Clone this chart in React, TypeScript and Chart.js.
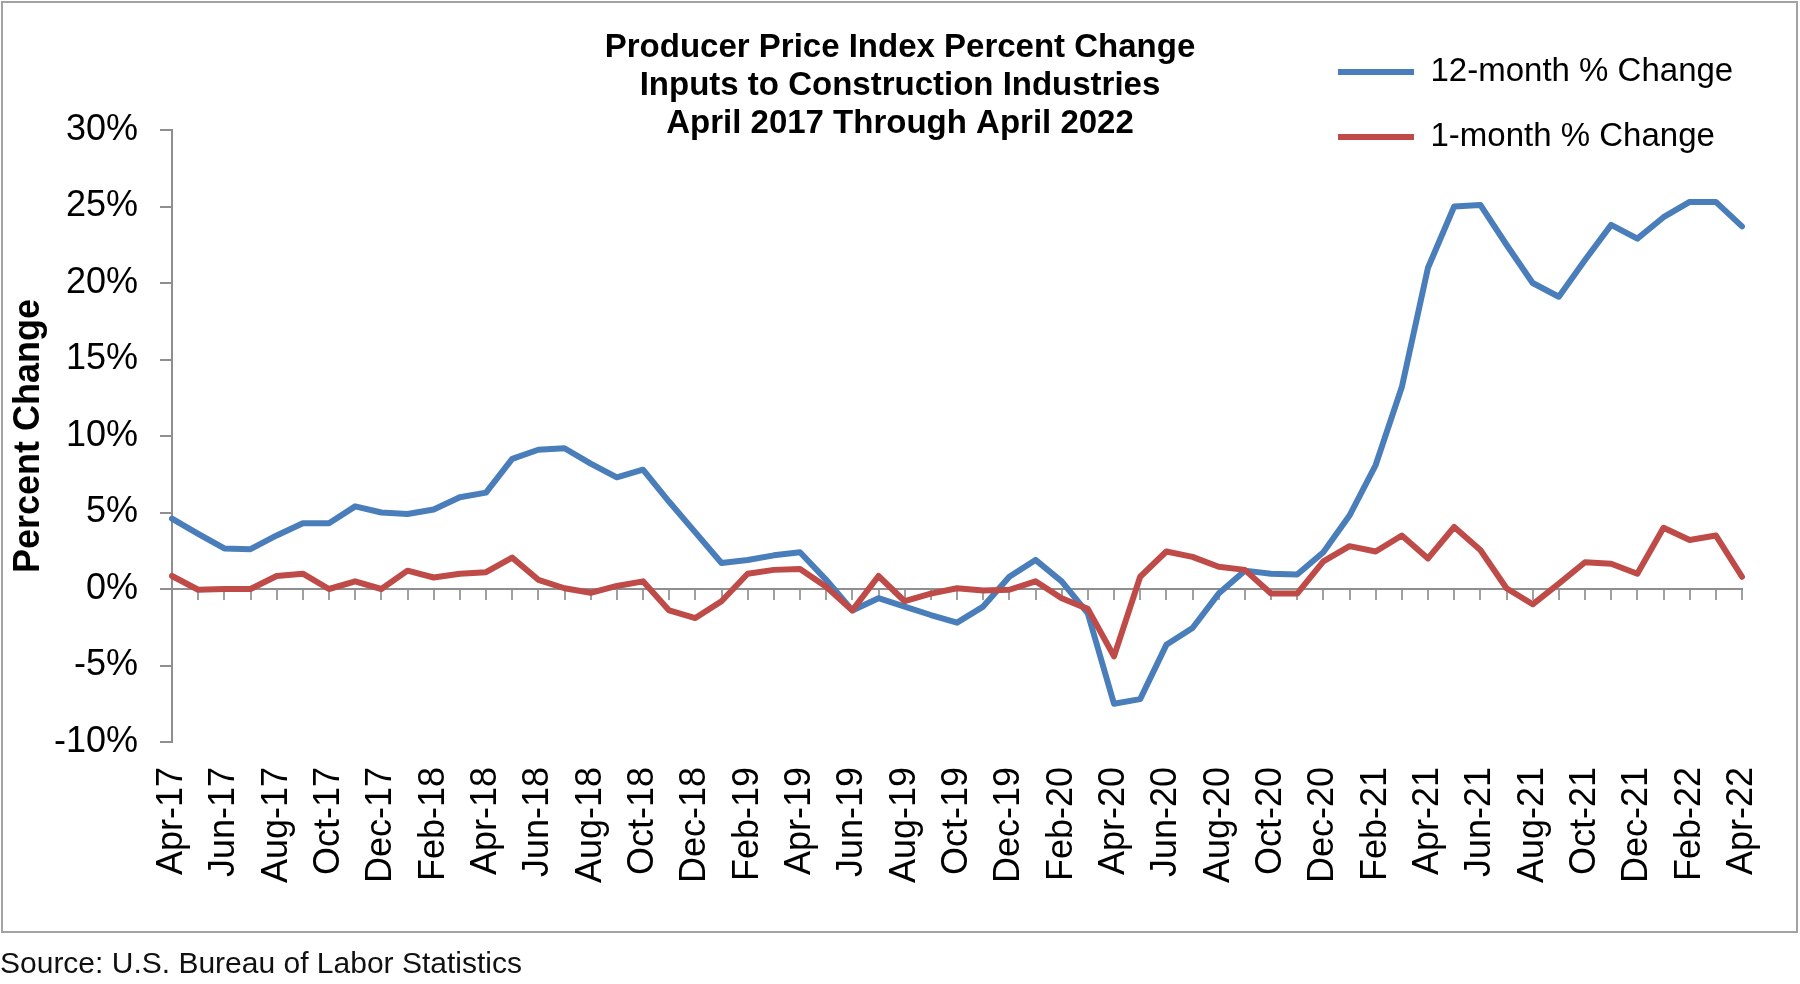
import React, { useEffect, useRef } from 'react';
import { Chart, registerables } from 'chart.js';

Chart.register(...registerables);

const FONT = '"Liberation Sans", Arial, Helvetica, sans-serif';

const monthLabels = [
  'Apr-17', 'May-17', 'Jun-17', 'Jul-17', 'Aug-17', 'Sep-17', 'Oct-17', 'Nov-17', 'Dec-17',
  'Jan-18', 'Feb-18', 'Mar-18', 'Apr-18', 'May-18', 'Jun-18', 'Jul-18', 'Aug-18', 'Sep-18', 'Oct-18', 'Nov-18', 'Dec-18',
  'Jan-19', 'Feb-19', 'Mar-19', 'Apr-19', 'May-19', 'Jun-19', 'Jul-19', 'Aug-19', 'Sep-19', 'Oct-19', 'Nov-19', 'Dec-19',
  'Jan-20', 'Feb-20', 'Mar-20', 'Apr-20', 'May-20', 'Jun-20', 'Jul-20', 'Aug-20', 'Sep-20', 'Oct-20', 'Nov-20', 'Dec-20',
  'Jan-21', 'Feb-21', 'Mar-21', 'Apr-21', 'May-21', 'Jun-21', 'Jul-21', 'Aug-21', 'Sep-21', 'Oct-21', 'Nov-21', 'Dec-21',
  'Jan-22', 'Feb-22', 'Mar-22', 'Apr-22',
];

const twelveMonthChange = [
  4.6, 3.6, 2.65, 2.6, 3.5, 4.3, 4.3, 5.4, 5.0,
  4.9, 5.2, 6.0, 6.3, 8.5, 9.1, 9.2, 8.2, 7.3, 7.8, 5.7, 3.7,
  1.7, 1.9, 2.2, 2.4, 0.6, -1.4, -0.6, -1.15, -1.7, -2.2, -1.15, 0.8,
  1.9, 0.5, -1.6, -7.5, -7.2, -3.65, -2.55, -0.3, 1.2, 1.0, 0.95, 2.4,
  4.8, 8.1, 13.2, 21.0, 25.0, 25.1, 22.5, 20.0, 19.1, 21.5, 23.8, 22.9,
  24.3, 25.3, 25.3, 23.7,
];

const oneMonthChange = [
  0.85, -0.05, 0.0, 0.0, 0.85, 1.0, 0.0, 0.5, 0.0,
  1.2, 0.75, 1.0, 1.1, 2.05, 0.6, 0.05, -0.25, 0.2, 0.5, -1.4, -1.9,
  -0.8, 1.0, 1.25, 1.3, 0.15, -1.4, 0.85, -0.8, -0.3, 0.05, -0.1, -0.05,
  0.5, -0.6, -1.3, -4.4, 0.8, 2.45, 2.1, 1.45, 1.25, -0.3, -0.3, 1.8,
  2.8, 2.45, 3.5, 2.0, 4.05, 2.55, 0.05, -1.0, 0.35, 1.75, 1.65, 1.0,
  4.0, 3.2, 3.5, 0.8,
];

const seriesNames = ['12-month % Change', '1-month % Change'];
const titleLines = [
  'Producer Price Index Percent Change',
  'Inputs to Construction Industries',
  'April 2017 Through April 2022',
];
const yAxisTitle = 'Percent Change';
const sourceNote = 'Source: U.S. Bureau of Labor Statistics';

const BLUE = '#4A7EBB';
const RED = '#BE4B48';
const AXIS_GRAY = '#8f8f8f';

export default function App() {
  const canvasRef = useRef<HTMLCanvasElement>(null);

  useEffect(() => {
    document.body.style.margin = '0';
    const canvas = canvasRef.current;
    if (!canvas) return;

    const legendPlacer = {
      id: 'legendPlacer',
      afterLayout(chart: any) {
        const lg = chart.legend;
        if (!lg) return;
        lg.left = 1306;
        lg.top = 23.5;
        lg.right = 1799;
        lg.bottom = 330;
      },
    };

    const chart = new Chart(canvas, {
      type: 'line',
      data: {
        labels: monthLabels,
        datasets: [
          {
            label: seriesNames[0],
            data: twelveMonthChange,
            borderColor: BLUE,
            backgroundColor: BLUE,
            borderWidth: 6,
            pointRadius: 0,
            pointHoverRadius: 0,
            tension: 0,
            borderJoinStyle: 'round',
            borderCapStyle: 'round',
            xAxisID: 'x',
            yAxisID: 'y',
            order: 1,
          },
          {
            label: seriesNames[1],
            data: oneMonthChange,
            borderColor: RED,
            backgroundColor: RED,
            borderWidth: 6,
            pointRadius: 0,
            pointHoverRadius: 0,
            tension: 0,
            borderJoinStyle: 'round',
            borderCapStyle: 'round',
            xAxisID: 'x',
            yAxisID: 'y',
            order: 0,
          },
        ],
      },
      options: {
        responsive: false,
        animation: false,
        devicePixelRatio: 1,
        layout: { padding: { left: 0, top: 0, right: 0, bottom: 0 } },
        scales: {
          x: {
            type: 'category',
            position: 'bottom',
            offset: false,
            grid: { display: false, drawTicks: false },
            border: { display: false },
            ticks: {
              autoSkip: false,
              minRotation: 90,
              maxRotation: 90,
              padding: 25,
              color: '#000',
              font: { size: 36, family: FONT },
              callback: (_v: any, index: number) => (index % 2 === 0 ? monthLabels[index] : ''),
            },
            afterFit: (s: any) => {
              s.height = 242;
              s.paddingLeft = 0;
              s.paddingRight = 58;
            },
          },
          xZero: {
            type: 'category',
            axis: 'x',
            position: { y: 0 },
            offset: false,
            grid: {
              display: true,
              drawOnChartArea: false,
              drawTicks: true,
              tickLength: 10,
              color: '#a0a0a0',
              lineWidth: 2,
            },
            border: { display: true, color: AXIS_GRAY, width: 2 },
            ticks: { display: false, autoSkip: false },
          },
          y: {
            type: 'linear',
            position: 'left',
            min: -10,
            max: 30,
            ticks: {
              stepSize: 5,
              padding: 22,
              color: '#000',
              font: { size: 36, family: FONT },
              callback: (v: any) => `${v}%`,
            },
            grid: {
              drawOnChartArea: false,
              drawTicks: true,
              tickLength: 12,
              color: AXIS_GRAY,
              lineWidth: 2,
            },
            border: { display: true, color: AXIS_GRAY, width: 2 },
            title: {
              display: true,
              text: yAxisTitle,
              color: '#000',
              font: { size: 36, weight: 'bold', family: FONT },
              padding: { top: 7, bottom: 0 },
            },
            afterFit: (s: any) => {
              s.width = 172;
            },
          },
        },
        plugins: {
          title: {
            display: true,
            text: titleLines,
            color: '#000',
            align: 'center',
            font: { size: 33, weight: 'bold', family: FONT, lineHeight: '38px' },
            padding: { top: 29, bottom: -13 },
          },
          legend: {
            display: true,
            position: 'chartArea',
            align: 'start',
            labels: {
              usePointStyle: true,
              pointStyle: 'line',
              pointStyleWidth: 76,
              padding: 32,
              color: '#000',
              font: { size: 33, family: FONT },
              sort: (a: any, b: any) => a.datasetIndex - b.datasetIndex,
            },
          },
          tooltip: { enabled: false },
        },
      } as any,
      plugins: [legendPlacer],
    });

    return () => chart.destroy();
  }, []);

  return (
    <div
      style={{
        position: 'absolute',
        left: 0,
        top: 0,
        width: 1800,
        height: 984,
        background: '#fff',
        overflow: 'hidden',
      }}
    >
      <canvas
        ref={canvasRef}
        width={1800}
        height={984}
        style={{ display: 'block', width: 1800, height: 984 }}
      />
      <div
        style={{
          position: 'absolute',
          left: 1,
          top: 1,
          width: 1797,
          height: 932,
          border: '2px solid #a3a3a3',
          boxSizing: 'border-box',
          pointerEvents: 'none',
        }}
      />
      <div
        style={{
          position: 'absolute',
          left: 0,
          top: 945,
          fontFamily: FONT,
          fontSize: 30,
          lineHeight: '36px',
          color: '#111',
          whiteSpace: 'nowrap',
        }}
      >
        {sourceNote}
      </div>
    </div>
  );
}
